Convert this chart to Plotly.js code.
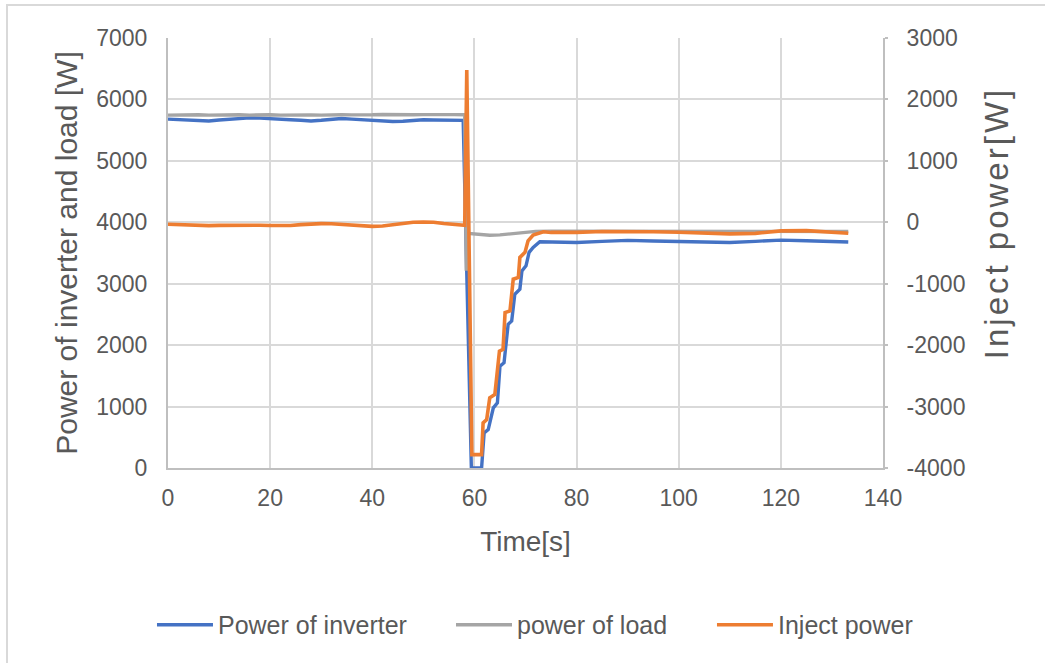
<!DOCTYPE html>
<html>
<head>
<meta charset="utf-8">
<script src="https://cdn.plot.ly/plotly-3.0.1.min.js"></script>
<style>
  html, body { margin: 0; padding: 0; background: #ffffff; }
  #chart { width: 1045px; height: 663px; position: relative; }
  #frame { position: absolute; left: 6px; top: 4px; width: 1100px; height: 700px;
           border-top: 2px solid #d9d9d9; border-left: 2px solid #d9d9d9; pointer-events: none; z-index: 5; }
  .g-y2title { transform: translate(2px, -30px); }
  .g-y2title text { letter-spacing: 3px; }
</style>
</head>
<body>
<div id="chart"></div>
<div id="frame"></div>
<script>
// ---------- data ----------
const seriesNames = ["Power of inverter", "power of load", "Inject power"];

const timeInverter = [0,2,4,6,8,10,12,14,16,18,20,22,24,26,28,30,32,34,36,38,40,42,44,46,48,50,52,54,56,57.8,
  59.4,61.4,61.9,62.7,63.7,64.5,65.0,65.8,66.6,67.3,67.9,68.9,69.3,70.1,70.7,71.5,72.8,
  75,80,85,90,95,100,105,110,115,120,125,130,133.2];
const powerInverter = [5680,5670,5665,5660,5650,5665,5680,5690,5700,5695,5690,5680,5670,5660,5650,5660,5680,5690,5680,5670,5660,5650,5640,5645,5660,5670,5665,5660,5665,5660,
  0,0,571,625,979,1061,1659,1714,2339,2393,2829,2911,3209,3291,3510,3591,3683,
  3680,3670,3690,3705,3695,3685,3680,3670,3690,3710,3700,3685,3680];

const timeLoad = [0,2,4,6,8,10,12,14,16,18,20,22,24,26,28,30,32,34,36,38,40,42,44,46,48,50,52,54,56,58.1,
  58.4,58.6,59.5,61,63,65,68,70,72,75,80,85,90,95,100,105,110,115,120,125,130,133.2];
const powerLoad = [5745,5750,5755,5750,5745,5750,5755,5750,5745,5752,5750,5745,5750,5755,5748,5745,5752,5750,5748,5745,5750,5755,5750,5745,5750,5752,5748,5750,5752,5750,
  3210,3820,3815,3800,3790,3795,3815,3840,3852,3855,3855,3850,3850,3848,3845,3850,3850,3852,3855,3850,3850,3850];

const timeInject = [0,2,4,6,8,10,12,14,16,18,20,22,24,26,28,30,32,34,36,38,40,42,44,46,48,50,52,54,56,58.1,
  58.5,59.5,61.4,61.7,62.4,63.0,64.0,64.9,65.6,66.0,66.96,67.6,68.6,68.9,69.9,70.5,71.5,73.5,
  75,80,85,90,95,100,105,110,115,120,125,130,133.2];
const powerInject = [-33,-40,-50,-56,-55,-50,-46,-44,-45,-48,-53,-56,-52,-38,-25,-22,-24,-35,-50,-62,-67,-60,-40,-15,0,5,0,-20,-38,-50,
  2480,-3783,-3783,-3265,-3212,-2857,-2803,-2097,-2069,-1470,-1444,-926,-899,-572,-490,-301,-208,-154,
  -165,-165,-150,-148,-155,-162,-175,-188,-180,-140,-135,-160,-178];

const leftTicks = [0,1000,2000,3000,4000,5000,6000,7000];
const rightTickVals = [-4000,-3000,-2000,-1000,0,1000,2000,3000];
const rightTickText = ["-4000","-3000","-2000","-1000","0","1000","2000","3000"];
const xTicks = [0,20,40,60,80,100,120,140];

// ---------- styling ----------
const FONT = "Liberation Sans, Arial, sans-serif";
const TXT = "#595959";
const colors = ["#4472C4", "#A5A5A5", "#ED7D31"];

const traces = [
  {x: timeInverter, y: powerInverter, name: seriesNames[0], type: "scatter", mode: "lines",
   line: {color: colors[0], width: 3.4}, xaxis: "x", yaxis: "y", legend: "legend"},
  {x: timeLoad, y: powerLoad, name: seriesNames[1], type: "scatter", mode: "lines",
   line: {color: colors[1], width: 3.4}, xaxis: "x", yaxis: "y", legend: "legend2"},
  {x: timeInject, y: powerInject, name: seriesNames[2], type: "scatter", mode: "lines",
   line: {color: colors[2], width: 3.6}, xaxis: "x", yaxis: "y2", legend: "legend3"}
];

const legendBase = {orientation: "h", xanchor: "left", yanchor: "middle", y: -0.365,
  font: {family: FONT, size: 25, color: TXT}, itemwidth: 56, bgcolor: "rgba(0,0,0,0)"};

const layout = {
  width: 1045, height: 663,
  margin: {l: 168, r: 162, t: 38, b: 195},
  paper_bgcolor: "#ffffff", plot_bgcolor: "#ffffff",
  font: {family: FONT, color: TXT},
  xaxis: {
    range: [0, 140], tickvals: xTicks, showgrid: true, gridcolor: "#d9d9d9", gridwidth: 2,
    showline: true, linecolor: "#bfbfbf", linewidth: 2, zeroline: false, ticks: "",
    tickfont: {family: FONT, size: 23, color: TXT}, ticklabelstandoff: 8,
    title: {text: "Time[s]", font: {family: FONT, size: 28, color: TXT}, standoff: 22},
    automargin: false
  },
  yaxis: {
    range: [0, 7000], tickvals: leftTicks, showgrid: true, gridcolor: "#d9d9d9", gridwidth: 2,
    showline: true, linecolor: "#bfbfbf", linewidth: 2, zeroline: false, ticks: "",
    tickfont: {family: FONT, size: 23, color: TXT}, ticklabelstandoff: 14,
    title: {text: "Power of inverter and load [W]", font: {family: FONT, size: 30, color: TXT}, standoff: 10},
    automargin: false
  },
  yaxis2: {
    range: [-4000, 3000], tickvals: rightTickVals, ticktext: rightTickText,
    overlaying: "y", side: "right", showgrid: false, zeroline: false,
    showline: true, linecolor: "#bfbfbf", linewidth: 2, ticks: "outside", ticklen: 3, tickcolor: "#bfbfbf", tickwidth: 2,
    tickfont: {family: FONT, size: 23, color: TXT}, ticklabelstandoff: 14,
    title: {text: "Inject power[W]", font: {family: FONT, size: 33, color: TXT}, standoff: 18},
    automargin: false
  },
  legend: Object.assign({}, legendBase, {x: -0.0224}),
  legend2: Object.assign({}, legendBase, {x: 0.3958}),
  legend3: Object.assign({}, legendBase, {x: 0.7608}),
  showlegend: true
};

Plotly.newPlot("chart", traces, layout, {displayModeBar: false, responsive: false, staticPlot: true});
</script>
</body>
</html>
